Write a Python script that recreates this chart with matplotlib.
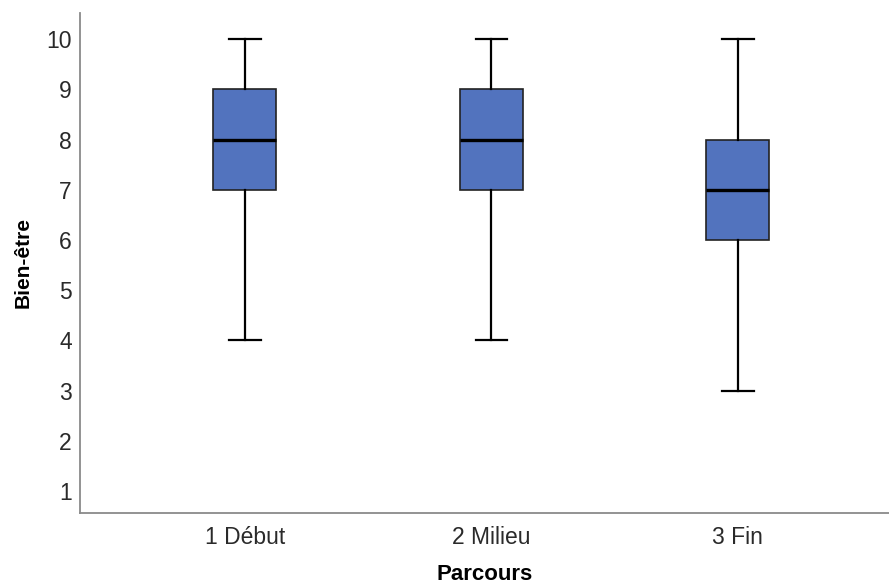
import matplotlib.pyplot as plt

plt.rcParams['font.family'] = ['Liberation Sans', 'DejaVu Sans']

# Résumé des boîtes à moustaches par étape du parcours
categories = ['1 Début', '2 Milieu', '3 Fin']
whis_low = [4, 4, 3]
q1 = [7, 7, 6]
median = [8, 8, 7]
q3 = [9, 9, 8]
whis_high = [10, 10, 10]

BOX_COLOR = '#5273BE'
SPINE_COLOR = '#8a8a8a'

stats = []
for i, lab in enumerate(categories):
    stats.append({
        'label': lab,
        'whislo': whis_low[i],
        'q1': q1[i],
        'med': median[i],
        'q3': q3[i],
        'whishi': whis_high[i],
        'fliers': [],
    })

fig = plt.figure(figsize=(8.89, 5.87), dpi=100)
ax = fig.add_axes([80 / 889, 74 / 587, 809 / 889, 500 / 587])

ax.bxp(
    stats,
    positions=[1, 2, 3],
    widths=0.256,
    patch_artist=True,
    showfliers=False,
    boxprops={'facecolor': BOX_COLOR, 'edgecolor': '#222222', 'linewidth': 1.2},
    medianprops={'color': 'black', 'linewidth': 2.4},
    whiskerprops={'color': 'black', 'linewidth': 1.6},
    capprops={'color': 'black', 'linewidth': 1.6},
    capwidths=0.128,
)

ax.set_xlim(0.331, 3.613)
ax.set_ylim(0.56, 10.52)
ax.set_yticks(range(1, 11))

for side in ('top', 'right'):
    ax.spines[side].set_visible(False)
for side in ('left', 'bottom'):
    ax.spines[side].set_color(SPINE_COLOR)
    ax.spines[side].set_linewidth(1.3)

ax.tick_params(axis='both', length=0, labelsize=16.5, labelcolor='#2a2a2a')
ax.tick_params(axis='y', pad=6)
ax.tick_params(axis='x', pad=9)

ax.set_ylabel('Bien-être', fontsize=15, fontweight='bold', labelpad=10)
ax.set_xlabel('Parcours', fontsize=16, fontweight='bold', labelpad=11)

fig.savefig('out.png', dpi=100)
